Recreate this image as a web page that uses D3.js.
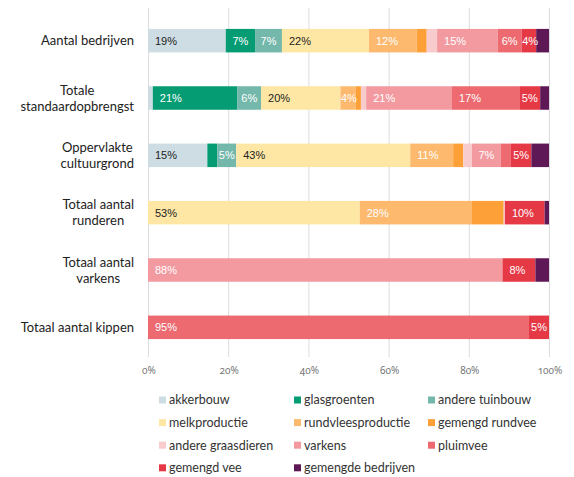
<!DOCTYPE html>
<html>
<head>
<meta charset="utf-8">
<script src="https://cdn.jsdelivr.net/npm/d3@7"></script>
<style>
  html, body { margin: 0; padding: 0; background: #fff; }
  svg { display: block; }
  .cat { font-family: Lato, "Noto Sans", sans-serif; font-size: 13px; fill: #222; }
  .tick-lbl { font-family: "Noto Sans", sans-serif; font-size: 10px; fill: #777; font-variant-numeric: oldstyle-nums; }
  .seg-lbl { font-family: "Liberation Sans", Arial, sans-serif; font-size: 11px; }
  .leg { font-family: Lato, "Noto Sans", sans-serif; font-size: 12.5px; fill: #333; }
</style>
</head>
<body>
<div id="chart"></div>
<script>
// Categories (rows), each row split into shares per farm type (percent)
const categories = [
  ["Aantal bedrijven"],
  ["Totale", "standaardopbrengst"],
  ["Oppervlakte", "cultuurgrond"],
  ["Totaal aantal", "runderen"],
  ["Totaal aantal", "varkens"],
  ["Totaal aantal kippen"]
];

const seriesNames = [
  "akkerbouw", "glasgroenten", "andere tuinbouw",
  "melkproductie", "rundvleesproductie", "gemengd rundvee",
  "andere graasdieren", "varkens", "pluimvee",
  "gemengd vee", "gemengde bedrijven"
];

const seriesColors = [
  "#cddde3", "#069c73", "#74b7ab",
  "#fee7a5", "#fdb96e", "#fca037",
  "#f8cbcd", "#f29a9f", "#ec6a70",
  "#e63946", "#5e1855"
];

// values per series, in row order
const akkerbouw         = [19.4,  1.2, 14.8,  0,    0,    0];
const glasgroenten      = [ 7.3, 21.1,  2.5,  0,    0,    0];
const andereTuinbouw    = [ 6.7,  5.9,  4.7,  0,    0,    0];
const melkproductie     = [21.7, 19.8, 43.4, 52.8,  0,    0];
const rundvleesproductie= [11.9,  3.8, 10.7, 28.0,  0,    0];
const gemengdRundvee    = [ 2.5,  1.3,  2.5,  7.9,  0,    0];
const andereGraasdieren = [ 2.6,  1.3,  2.2,  0.3,  0,    0];
const varkens           = [15.1, 21.4,  7.2,  0,   88.4,  0];
const pluimvee          = [ 6.0, 16.8,  2.5,  0,    0,   95.0];
const gemengdVee        = [ 3.6,  5.2,  5.1,  9.9,  8.2,  5.0];
const gemengdeBedrijven = [ 3.2,  2.2,  4.4,  1.1,  3.4,  0];

const seriesValues = [
  akkerbouw, glasgroenten, andereTuinbouw,
  melkproductie, rundvleesproductie, gemengdRundvee,
  andereGraasdieren, varkens, pluimvee,
  gemengdVee, gemengdeBedrijven
];

// series that carry a value label, and the ones with dark label text
const labelledSeries = [0, 1, 2, 3, 4, 7, 8, 9];
const darkLabelSeries = [0, 3];
const labelMin = 3.5;

const xTicks = [0, 20, 40, 60, 80, 100];

const W = 574, H = 477;
const margin = { top: 12, left: 148, right: 25, plotBottom: 356 };

const svg = d3.select("#chart").append("svg")
  .attr("width", W).attr("height", H);

const x = d3.scaleLinear().domain([0, 100]).range([margin.left, W - margin.right]);
const y = d3.scaleBand()
  .domain(d3.range(categories.length))
  .range([margin.top, margin.plotBottom])
  .paddingInner(0.59).paddingOuter(0.295);

// gridlines
svg.append("g").selectAll("line").data(xTicks).join("line")
  .attr("x1", d => x(d) + 0.5).attr("x2", d => x(d) + 0.5)
  .attr("y1", 8).attr("y2", margin.plotBottom + 1)
  .attr("stroke", "#dcdcdc").attr("stroke-width", 1);

// x-axis tick labels
svg.append("g").selectAll("text").data(xTicks).join("text")
  .attr("class", "tick-lbl")
  .attr("x", d => x(d) + 1).attr("y", 374)
  .attr("text-anchor", "middle")
  .text(d => d + "%");

// stack rows
const rows = categories.map((c, i) => {
  let acc = 0;
  return seriesValues.map((vals, s) => {
    const v = vals[i];
    const seg = { row: i, s, v, x0: acc, x1: acc + v };
    acc += v;
    return seg;
  });
});

const segs = rows.flat().filter(d => d.v > 0);

svg.append("g").selectAll("rect").data(segs).join("rect")
  .attr("x", d => x(d.x0))
  .attr("width", d => x(d.x1) - x(d.x0))
  .attr("y", d => y(d.row))
  .attr("height", y.bandwidth())
  .attr("fill", d => seriesColors[d.s]);

// value labels inside segments
const lblG = svg.append("g");
segs.filter(d => labelledSeries.includes(d.s) && d.v >= labelMin).forEach(d => {
  const t = lblG.append("text")
    .attr("class", "seg-lbl")
    .attr("y", y(d.row) + y.bandwidth() / 2)
    .attr("dy", "0.36em")
    .attr("fill", darkLabelSeries.includes(d.s) ? "#222" : "#fff")
    .text(Math.round(d.v) + "%");
  const tw = t.node().getComputedTextLength();
  const w = x(d.x1) - x(d.x0);
  const pad = Math.min(7, Math.max(0.5, (w - tw) / 2));
  t.attr("x", x(d.x0) + pad);
});

// category labels, multi-line blocks centred line-by-line and right-aligned as a block
const catG = svg.append("g");
const lineH = 16;
categories.forEach((lines, i) => {
  const cy = y(i) + y.bandwidth() / 2;
  const g = catG.append("g");
  const texts = lines.map((ln, k) => g.append("text")
    .attr("class", "cat")
    .attr("y", cy + (k - (lines.length - 1) / 2) * lineH)
    .attr("dy", "0.35em")
    .attr("text-anchor", "middle")
    .text(ln));
  const maxW = d3.max(texts, t => t.node().getComputedTextLength());
  const right = 134;
  texts.forEach(t => t.attr("x", right - maxW / 2));
});

// legend
const legCols = [159, 294, 428];
const legRow0 = 400, legRowStep = 22.6;
const leg = svg.append("g").selectAll("g").data(seriesNames).join("g")
  .attr("transform", (d, i) => `translate(${legCols[i % 3]},${legRow0 + Math.floor(i / 3) * legRowStep})`);
leg.append("rect")
  .attr("x", 0).attr("y", -3.5).attr("width", 7).attr("height", 7)
  .attr("fill", (d, i) => seriesColors[i]);
leg.append("text")
  .attr("class", "leg")
  .attr("x", 10).attr("y", 0).attr("dy", "0.35em")
  .text(d => d);
</script>
</body>
</html>
